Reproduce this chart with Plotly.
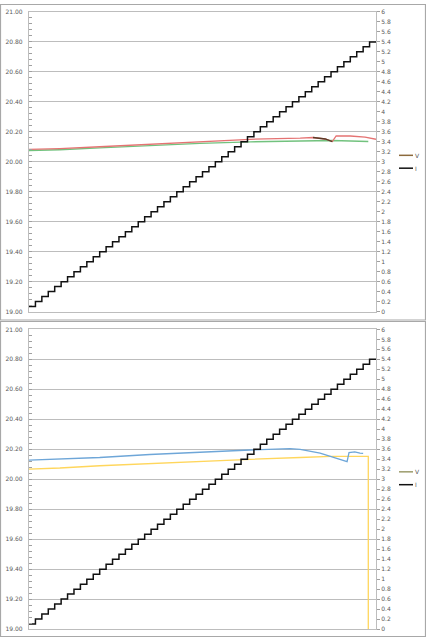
import plotly.graph_objects as go

# ---- data (x in current-step units, 0..54) ----
I_levels = [0.1, 0.2, 0.3, 0.4, 0.5, 0.6, 0.7, 0.8, 0.9, 1.0,
            1.1, 1.2, 1.3, 1.4, 1.5, 1.6, 1.7, 1.8, 1.9, 2.0,
            2.1, 2.2, 2.3, 2.4, 2.5, 2.6, 2.7, 2.8, 2.9, 3.0,
            3.1, 3.2, 3.3, 3.4, 3.5, 3.6, 3.7, 3.8, 3.9, 4.0,
            4.1, 4.2, 4.3, 4.4, 4.5, 4.6, 4.7, 4.8, 4.9, 5.0,
            5.1, 5.2, 5.3, 5.4]

top_red_x = [0, 4.8, 11, 18.8, 26.6, 34.4, 42.2, 44.2, 46.1, 47.2, 47.8, 50.0, 52.3, 53.1, 54]
top_red_v = [20.083, 20.088, 20.100, 20.118, 20.135, 20.150, 20.158, 20.162, 20.152, 20.135,
             20.173, 20.172, 20.165, 20.160, 20.150]
top_dark_x = [44.2, 46.1, 47.2]
top_dark_v = [20.162, 20.152, 20.135]
top_green_x = [0, 4.8, 11, 18.8, 26.6, 34.4, 42.2, 47.2, 52.8]
top_green_v = [20.075, 20.080, 20.092, 20.108, 20.122, 20.133, 20.140, 20.142, 20.135]

bot_blue_x = [0, 4.8, 11, 18.8, 26.6, 34.4, 40.6, 42.2, 45.3, 49.2, 49.5, 49.8, 50.7, 51.5, 52.0]
bot_blue_v = [20.128, 20.135, 20.145, 20.165, 20.182, 20.195, 20.205, 20.200, 20.175, 20.120,
              20.117, 20.178, 20.182, 20.174, 20.172]
bot_yellow_x = [0, 4.8, 11, 18.8, 26.6, 34.4, 42.2, 47.0, 52.8, 52.8, 54]
bot_yellow_v = [20.068, 20.075, 20.090, 20.105, 20.120, 20.133, 20.145, 20.152, 20.152, 0, 0]

legend_labels = ["V", "I"]

W, H = 426, 640
PL, PR = 29, 376
TOP = (8, 311)
BOT = (329, 632)

def ydom(t, b):
    return [1 - b / H, 1 - t / H]

I_x = list(range(len(I_levels) + 1))
I_y = I_levels + [I_levels[-1]]

fig = go.Figure()

def add(x, y, color, xa, ya, width=1.3, shape="linear"):
    fig.add_trace(go.Scatter(x=x, y=y, mode="lines", line=dict(color=color, width=width, shape=shape),
                             xaxis=xa, yaxis=ya, showlegend=False, hoverinfo="skip"))

# top chart
add(top_green_x, top_green_v, "#72c27e", "x", "y")
add(top_red_x, top_red_v, "#e57373", "x", "y")
add(top_dark_x, top_dark_v, "#5a3c28", "x", "y")
add(I_x, I_y, "#111111", "x", "y2", width=1.5, shape="hv")
# bottom chart
add(bot_yellow_x, bot_yellow_v, "#ffd65c", "x2", "y3")
add(bot_blue_x, bot_blue_v, "#6ea6d8", "x2", "y3")
add(I_x, I_y, "#111111", "x2", "y4", width=1.5, shape="hv")

grid = "#bdbdbd"
font_l = dict(family="DejaVu Sans", size=6, color="#595959")

def xax(anchor):
    return dict(domain=[PL / W, PR / W], range=[0, 54], showticklabels=False, showgrid=False,
                zeroline=False, showline=True, mirror=True, linecolor=grid, linewidth=1.2,
                anchor=anchor, ticks="")

def yl(dom, anchor):
    return dict(domain=dom, range=[19, 21], dtick=0.2, tick0=19, tickformat=".2f",
                showgrid=True, gridcolor=grid, gridwidth=1.4, zeroline=False,
                showline=True, mirror=True, linecolor=grid, linewidth=1.2,
                ticks="inside", ticklen=3, tickcolor="#a0a0a0", tickfont=font_l,
                ticklabelstandoff=4, anchor=anchor,
                minor=dict(dtick=0.04, ticks="inside", ticklen=3, tickcolor="#a0a0a0", showgrid=False))

def yr(over, anchor):
    return dict(overlaying=over, side="right", range=[0, 6], dtick=0.2, tick0=0,
                showgrid=False, zeroline=False, showline=False, ticks="outside", ticklen=3,
                tickcolor="#a0a0a0", tickfont=font_l, anchor=anchor)

fig.update_layout(
    width=W, height=H, autosize=False,
    margin=dict(l=0, r=0, t=0, b=0),
    paper_bgcolor="white", plot_bgcolor="white",
    showlegend=False,
    xaxis=xax("y"), yaxis=yl(ydom(*TOP), "x"), yaxis2=yr("y", "x"),
    xaxis2=xax("y3"), yaxis3=yl(ydom(*BOT), "x2"), yaxis4=yr("y3", "x2"),
)

shapes = [
    dict(type="rect", xref="paper", yref="paper", x0=0.5 / W, x1=1 - 0.5 / W,
         y0=1 - 319.5 / H, y1=1 - 0.5 / H, line=dict(color="#a8a8a8", width=1.2)),
    dict(type="rect", xref="paper", yref="paper", x0=0.5 / W, x1=1 - 0.5 / W,
         y0=0.5 / H, y1=1 - 321 / H, line=dict(color="#a8a8a8", width=1.2)),
]
annotations = []
legend_items = [(153, "#8c6a3c", legend_labels[0]), (166, "#111111", legend_labels[1]),
                (473, "#9c9c6c", legend_labels[0]), (486, "#111111", legend_labels[1])]
for yy, col, lab in legend_items:
    shapes.append(dict(type="line", xref="paper", yref="paper", x0=399 / W, x1=413 / W,
                       y0=1 - yy / H, y1=1 - yy / H, line=dict(color=col, width=1.5)))
    annotations.append(dict(xref="paper", yref="paper", x=414 / W, y=1 - yy / H, text=lab,
                            showarrow=False, xanchor="left", yanchor="middle", borderpad=0,
                            font=dict(family="DejaVu Sans", size=6, color="#595959")))
fig.update_layout(shapes=shapes, annotations=annotations)

fig.write_html("out.html", config={"displayModeBar": False},
               post_script="document.body.style.margin='0';document.body.style.overflow='hidden';")
